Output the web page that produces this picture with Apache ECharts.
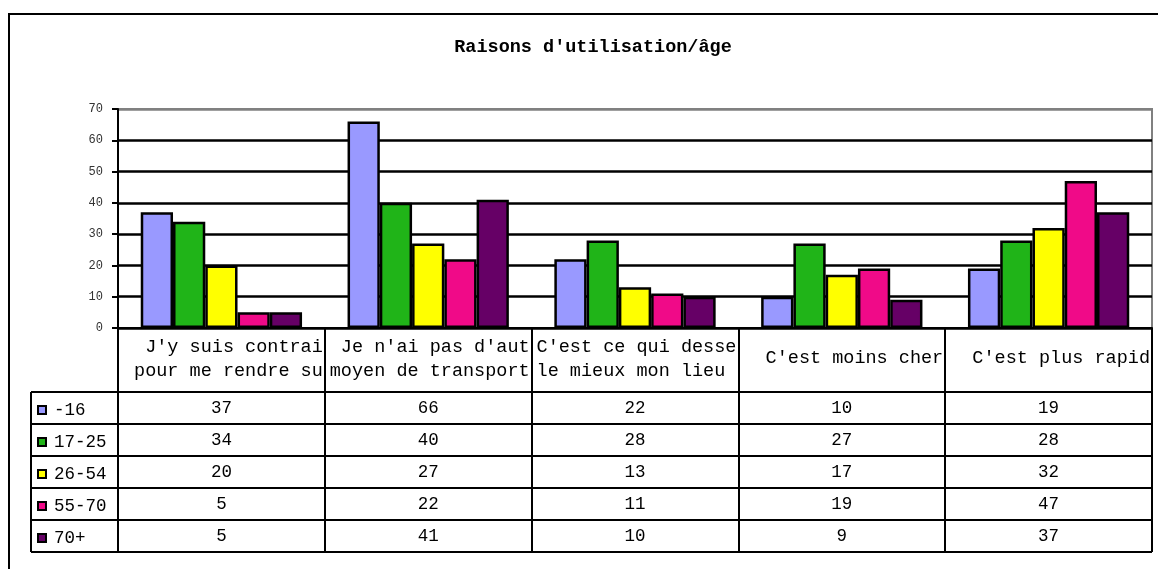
<!DOCTYPE html>
<html>
<head>
<meta charset="utf-8">
<script src="https://cdn.jsdelivr.net/npm/echarts@6/dist/echarts.min.js"></script>
<style>
html,body{margin:0;padding:0;background:#fff;}
#chart{width:1158px;height:569px;}
</style>
</head>
<body>
<div id="chart"></div>
<script>
// ---- data ----
const titleText = "Raisons d'utilisation/âge";
const categories = [
  "J'y suis contrai\npour me rendre su",
  "Je n'ai pas d'aut\nmoyen de transport",
  "C'est ce qui desse\nle mieux mon lieu ",
  "C'est moins cher",
  "C'est plus rapid"
];
const ageGroups = ['-16', '17-25', '26-54', '55-70', '70+'];
const valuesM16   = [37, 66, 22, 10, 19];
const values17_25 = [34, 40, 28, 27, 28];
const values26_54 = [20, 27, 13, 17, 32];
const values55_70 = [5, 22, 11, 19, 47];
const values70p   = [5, 41, 10, 9, 37];
const yTicks = [0, 10, 20, 30, 40, 50, 60, 70];

const seriesValues = [valuesM16, values17_25, values26_54, values55_70, values70p];
const colors = ['#9999FF', '#20B418', '#FFFF00', '#F00A88', '#660066'];

// ---- layout/style constants ----
const FONT = "'Liberation Mono', 'Courier New', monospace";
const GRID = {left: 118, right: 6, top: 109, bottom: 241};
const HEADER_H = 64;
const ROW_H = 32;
const TABLE_LEFT = 31;
const TABLE_DEPTH = HEADER_H + ROW_H * ageGroups.length;

const chart = echarts.init(document.getElementById('chart'), null, {renderer: 'canvas'});

const splitColors = yTicks.map((t, i) => i === yTicks.length - 1 ? '#808080' : '#000');

const option = {
  backgroundColor: '#fff',
  animation: false,
  title: {
    text: titleText,
    left: 588, top: 33, textAlign: 'center',
    textStyle: {fontFamily: FONT, fontWeight: 'bold', fontSize: 18.5, color: '#000'}
  },
  grid: {
    left: GRID.left, right: GRID.right, top: GRID.top, bottom: GRID.bottom,
    show: true, borderColor: '#808080', borderWidth: 2, backgroundColor: 'transparent'
  },
  xAxis: {
    type: 'category',
    data: categories,
    boundaryGap: true,
    axisLine: {show: true, lineStyle: {color: '#000', width: 2}},
    axisTick: {show: true, interval: 0, alignWithLabel: false, length: TABLE_DEPTH, lineStyle: {color: '#000', width: 2}},
    axisLabel: {show: false},
    splitLine: {show: false}
  },
  yAxis: {
    type: 'value',
    min: yTicks[0], max: yTicks[yTicks.length - 1], interval: 10,
    axisLine: {show: true, lineStyle: {color: '#000', width: 2}},
    axisTick: {show: true, length: 6, lineStyle: {color: '#000', width: 2}},
    axisLabel: {show: true, fontFamily: FONT, fontSize: 12, color: '#333', margin: 15},
    splitLine: {show: true, lineStyle: {color: splitColors, width: 2.5}}
  },
  series: ageGroups.map((name, i) => ({
    name: name,
    type: 'bar',
    data: seriesValues[i],
    barGap: '0%',
    barCategoryGap: '22%',
    itemStyle: {color: colors[i], borderColor: '#000', borderWidth: 2.5}
  }))
};

chart.setOption(option);

// ---- data table drawn from the axis scale ----
function buildTable() {
  const centers = categories.map((c, i) => chart.convertToPixel({xAxisIndex: 0}, i));
  const band = centers.length > 1 ? centers[1] - centers[0] : 200;
  const y0 = chart.convertToPixel({yAxisIndex: 0}, 0);
  const xRight = centers[centers.length - 1] + band / 2;
  const els = [];
  const lineStyle = {stroke: '#000', lineWidth: 2};

  // outer frame
  els.push({type: 'rect', shape: {x: 9, y: 14, width: 1300, height: 700}, style: {fill: 'none', stroke: '#000', lineWidth: 2}, z: 0, silent: true});

  // horizontal row lines
  const headerBottom = y0 + HEADER_H;
  for (let r = 0; r <= ageGroups.length; r++) {
    const y = headerBottom + r * ROW_H;
    els.push({type: 'line', shape: {x1: TABLE_LEFT, y1: y, x2: xRight, y2: y}, style: lineStyle, z: 10});
  }
  // left border of legend column
  els.push({type: 'line', shape: {x1: TABLE_LEFT, y1: headerBottom, x2: TABLE_LEFT, y2: headerBottom + ROW_H * ageGroups.length}, style: lineStyle, z: 10});

  // header texts (right-aligned, as clipped in the original)
  categories.forEach((cat, i) => {
    const lines = cat.split('\n');
    const cellRight = centers[i] + band / 2 - 2;
    const ys = lines.length === 2 ? [y0 + 19, y0 + 43] : [y0 + 30];
    lines.forEach((ln, k) => {
      els.push({type: 'text', x: cellRight, y: ys[k], z: 10,
        style: {text: ln, font: '18.5px ' + FONT, fill: '#000', textAlign: 'right', textVerticalAlign: 'middle', align: 'right', verticalAlign: 'middle'}});
    });
  });

  // rows
  ageGroups.forEach((name, r) => {
    const rowTop = headerBottom + r * ROW_H;
    const cy = rowTop + ROW_H / 2 + 2;
    els.push({type: 'rect', shape: {x: 38, y: cy - 4, width: 8, height: 8},
      style: {fill: colors[r], stroke: '#000', lineWidth: 2}, z: 10});
    els.push({type: 'text', x: 54, y: cy, z: 10,
      style: {text: name, font: '17.5px ' + FONT, fill: '#000', textAlign: 'left', textVerticalAlign: 'middle', align: 'left', verticalAlign: 'middle'}});
    seriesValues[r].forEach((v, i) => {
      els.push({type: 'text', x: centers[i], y: cy - 2, z: 10,
        style: {text: String(v), font: '17.5px ' + FONT, fill: '#000', textAlign: 'center', textVerticalAlign: 'middle', align: 'center', verticalAlign: 'middle'}});
    });
  });

  chart.setOption({graphic: {elements: els}});
}
buildTable();
</script>
</body>
</html>
